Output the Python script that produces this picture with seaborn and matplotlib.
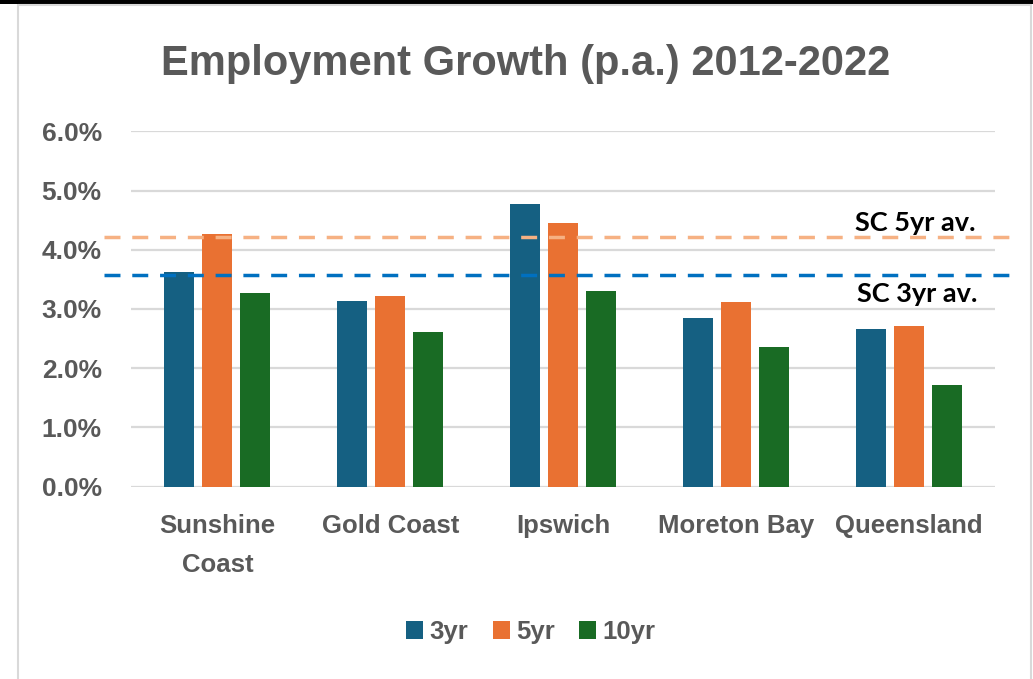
import matplotlib
matplotlib.use("Agg")
import matplotlib.pyplot as plt
from matplotlib.ticker import PercentFormatter, MultipleLocator
from matplotlib.patches import Rectangle
from matplotlib.lines import Line2D
import seaborn as sns
import pandas as pd

# Employment growth per annum (%), by region and period
regions = ["Sunshine\nCoast", "Gold Coast", "Ipswich", "Moreton Bay", "Queensland"]
periods = ["3yr", "5yr", "10yr"]
growth_3yr = [3.62, 3.14, 4.78, 2.85, 2.66]
growth_5yr = [4.26, 3.22, 4.45, 3.12, 2.72]
growth_10yr = [3.27, 2.62, 3.31, 2.36, 1.71]

# Sunshine Coast reference averages
sc_3yr_avg = 3.57
sc_5yr_avg = 4.22

title = "Employment Growth (p.a.) 2012-2022"

bar_colors = ["#156082", "#E97132", "#196B24"]
text_grey = "#595959"
grid_grey = "#D9D9D9"

df = pd.DataFrame({
    "Region": regions * 3,
    "Period": [p for p in periods for _ in regions],
    "Growth": growth_3yr + growth_5yr + growth_10yr,
})

sns.set_theme(style="white")
plt.rcParams["font.family"] = ["Liberation Sans", "DejaVu Sans"]

W, H = 1033, 679
fig = plt.figure(figsize=(W / 100, H / 100), dpi=100)
ax = fig.add_axes([131 / W, 1 - 486.7 / H, 864 / W, (486.7 - 131.3) / H])

sns.barplot(
    data=df, x="Region", y="Growth", hue="Period",
    order=regions, hue_order=periods, palette=bar_colors,
    width=0.66, gap=0.21, saturation=1, errorbar=None,
    edgecolor="none", zorder=2, ax=ax,
)

ax.set_ylim(0, 6)
ax.set_xlim(-0.5, len(regions) - 0.5)
ax.yaxis.set_major_locator(MultipleLocator(1))
ax.yaxis.set_major_formatter(PercentFormatter(xmax=100, decimals=1))
ax.grid(axis="y", color=grid_grey, linewidth=1.6, zorder=0)
ax.set_axisbelow(True)
for s in ax.spines.values():
    s.set_visible(False)
ax.set_xlabel("")
ax.set_ylabel("")
ax.tick_params(axis="y", length=0, pad=21, labelsize=19, labelcolor=text_grey)
ax.tick_params(axis="x", length=0, pad=20, labelsize=18.5, labelcolor=text_grey)
for lab in ax.get_yticklabels() + ax.get_xticklabels():
    lab.set_fontweight("bold")
for lab in ax.get_xticklabels():
    lab.set_linespacing(1.75)

# Sunshine Coast average reference lines
for val, col in [(sc_5yr_avg, "#F6B183"), (sc_3yr_avg, "#0070C0")]:
    ax.axhline(val, xmin=-0.031, xmax=1.024, color=col, linewidth=2.5,
               dashes=(4.6, 3.4), clip_on=False, zorder=4)

ann_font = dict(family=["Lato", "DejaVu Sans"], fontweight="bold",
                fontsize=19.5, color="black")
ax.annotate("SC 5yr av.", xy=(0.978, sc_5yr_avg), xycoords=("axes fraction", "data"),
            xytext=(0, 3.8), textcoords="offset points", ha="right",
            va="baseline", zorder=5, **ann_font)
ax.annotate("SC 3yr av.", xy=(0.980, sc_3yr_avg), xycoords=("axes fraction", "data"),
            xytext=(0, -19), textcoords="offset points", ha="right",
            va="baseline", zorder=5, **ann_font)

# Legend
handles, labels = ax.get_legend_handles_labels()
ax.legend(handles, labels, loc="center", bbox_to_anchor=(531 / W, 47 / H),
          bbox_transform=fig.transFigure, ncol=3, frameon=False,
          prop=dict(weight="bold", size=18.5), labelcolor=text_grey,
          handlelength=0.66, handleheight=0.66, handletextpad=0.25,
          columnspacing=0.95, borderaxespad=0)

fig.text(526 / W, 1 - 75 / H, title, ha="center", va="baseline",
         fontsize=30, fontweight="bold", color=text_grey)

# Outer frame
fig.add_artist(Rectangle((0, 1 - 4 / H), 1, 4 / H, transform=fig.transFigure,
                         facecolor="black", edgecolor="none"))
frame_kw = dict(transform=fig.transFigure, color=grid_grey, linewidth=1.5)
fig.add_artist(Line2D([18 / W, 1031 / W], [1 - 5 / H, 1 - 5 / H], **frame_kw))
fig.add_artist(Line2D([18 / W, 18 / W], [0, 1 - 5 / H], **frame_kw))
fig.add_artist(Line2D([1031 / W, 1031 / W], [0, 1 - 5 / H], **frame_kw))

fig.savefig("out.png", dpi=100, facecolor="white")
